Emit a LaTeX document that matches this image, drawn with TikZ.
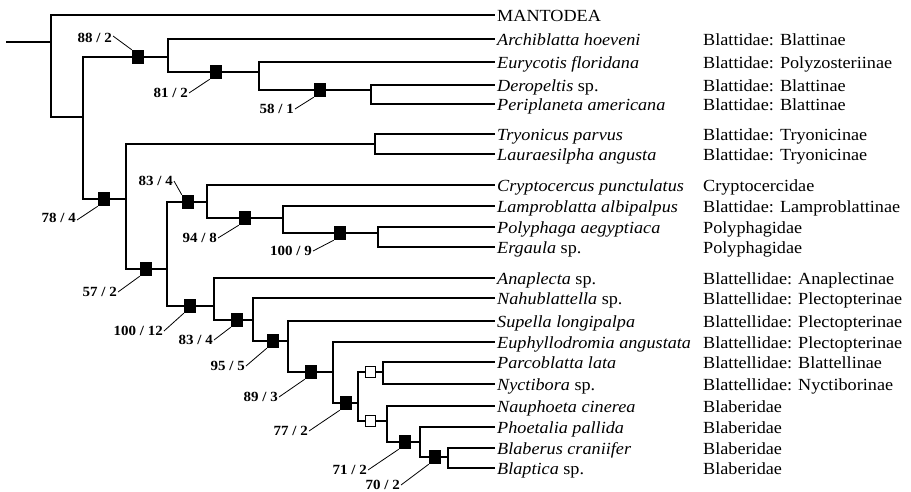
\documentclass[tikz,border=0pt]{standalone}
\usepackage{fontspec}
\setmainfont{Liberation Serif}[FakeStretch=1.07]
\begin{document}
\begin{tikzpicture}[x=1pt,y=-1pt,
  br/.style={line width=1.5pt, line cap=rect},
  bsq/.style={fill=black, draw=none, minimum width=12pt, minimum height=14pt, inner sep=0pt},
  osq/.style={fill=white, draw=black, line width=1pt, minimum width=10pt, minimum height=10.5pt, inner sep=0pt},
  leaf/.style={anchor=base west, inner sep=0pt, font=\fontsize{17}{19}\selectfont},
  lab/.style={anchor=east, inner sep=1pt, font=\fontsize{14}{16}\selectfont\bfseries},
  ldr/.style={line width=0.8pt}]
\useasboundingbox (0,0) rectangle (911,491);

% support squares
\node[bsq] (s88) at (138,57) {};
\node[bsq] (s81) at (216,72) {};
\node[bsq] (s58) at (320,90) {};
\node[bsq] (s78) at (104,199) {};
\node[bsq] (s57) at (146,269) {};
\node[bsq] (s83a) at (188,202) {};
\node[bsq] (s94) at (245,218) {};
\node[bsq] (s100) at (340,233) {};
\node[bsq] (s112) at (190,306) {};
\node[bsq] (s83b) at (237,320) {};
\node[bsq] (s95) at (273,341) {};
\node[bsq] (s89) at (311,372) {};
\node[bsq] (s77) at (346,403) {};
\node[osq] (o1) at (370,372) {};
\node[osq] (o2) at (370,421) {};
\node[bsq] (s71) at (405,442) {};
\node[bsq] (s70) at (435,457) {};

% tip coordinates
\foreach \n/\y in {t1/15,t2/39,t3/62,t4/85,t5/104,t6/134,t7/154,t8/185,t9/206,t10/227,t11/247,t12/278,t13/298,t14/321,t15/342,t16/362,t17/384,t18/406,t19/427,t20/448,t21/468}
  \coordinate (\n) at (494,\y);
\coordinate (root) at (7,42);

% tree
\draw[br] (root) -- (51,42);
\draw[br] (t1) -- (51,15) -- (51,117) -- (83,117);
\draw[br] (83,57) -- (83,199);
\draw[br] (83,57) -- (s88) -- (168,57);
\draw[br] (t2) -- (168,39) -- (168,72) -- (s81) -- (259,72);
\draw[br] (t3) -- (259,62) -- (259,90) -- (s58) -- (371,90);
\draw[br] (t4) -- (371,85) -- (371,104) -- (t5);
\draw[br] (83,199) -- (s78) -- (126,199);
\draw[br] (126,144) -- (126,269);
\draw[br] (126,144) -- (375,144);
\draw[br] (t6) -- (375,134) -- (375,154) -- (t7);
\draw[br] (126,269) -- (s57) -- (167,269);
\draw[br] (167,202) -- (167,306);
\draw[br] (167,202) -- (s83a) -- (207,202);
\draw[br] (t8) -- (207,185) -- (207,218) -- (s94) -- (283,218);
\draw[br] (t9) -- (283,206) -- (283,233) -- (s100) -- (378,233);
\draw[br] (t10) -- (378,227) -- (378,247) -- (t11);
\draw[br] (167,306) -- (s112) -- (214,306);
\draw[br] (t12) -- (214,278) -- (214,320) -- (s83b) -- (253,320);
\draw[br] (t13) -- (253,298) -- (253,341) -- (s95) -- (288,341);
\draw[br] (t14) -- (288,321) -- (288,372) -- (s89) -- (333,372);
\draw[br] (t15) -- (333,342) -- (333,403) -- (s77) -- (358,403);
\draw[br] (358,372) -- (358,421);
\draw[br] (358,372) -- (o1) -- (383,372);
\draw[br] (t16) -- (383,362) -- (383,384) -- (t17);
\draw[br] (358,421) -- (o2) -- (387,421);
\draw[br] (t18) -- (387,406) -- (387,442) -- (s71) -- (420,442);
\draw[br] (t19) -- (420,427) -- (420,457) -- (s70) -- (448,457);
\draw[br] (t20) -- (448,448) -- (448,468) -- (t21);

% support labels
\node[lab] (l88) at (113,38) {88 / 2};
\node[lab] (l81) at (189,93) {81 / 2};
\node[lab] (l58) at (295,109) {58 / 1};
\node[lab] (l78) at (77,218) {78 / 4};
\node[lab] (l83a) at (174,181) {83 / 4};
\node[lab] (l94) at (218,238) {94 / 8};
\node[lab] (l100) at (313,251) {100 / 9};
\node[lab] (l57) at (118,292) {57 / 2};
\node[lab] (l112) at (164,331) {100 / 12};
\node[lab] (l83b) at (214,340) {83 / 4};
\node[lab] (l95) at (246,366) {95 / 5};
\node[lab] (l89) at (279,397) {89 / 3};
\node[lab] (l77) at (309,431) {77 / 2};
\node[lab] (l71) at (368,470) {71 / 2};
\node[lab] (l70) at (401,485) {70 / 2};

\draw[ldr] ([yshift=2pt]l88.east) -- (s88.north west);
\draw[ldr] (l81.east) -- (s81.south west);
\draw[ldr] (l58.east) -- (s58.south west);
\draw[ldr] ([yshift=-2pt]l78.east) -- (s78.south west);
\draw[ldr] (l83a.east) -- (s83a.north west);
\draw[ldr] (l94.east) -- (s94.south west);
\draw[ldr] (l100.east) -- (s100.south west);
\draw[ldr] (l57.east) -- (s57.south west);
\draw[ldr] (l112.east) -- (s112.south west);
\draw[ldr] (l83b.east) -- (s83b.south west);
\draw[ldr] (l95.east) -- (s95.south west);
\draw[ldr] (l89.east) -- (s89.south west);
\draw[ldr] (l77.east) -- (s77.south west);
\draw[ldr] (l71.east) -- (s71.south west);
\draw[ldr] (l70.east) -- (s70.south west);

% taxa
\node[leaf] (n1) at (497,21) {MANTODEA};
\node[leaf] (n2) at (497,45) {\itshape Archiblatta hoeveni};
\node[leaf] (n3) at (497,68) {\itshape Eurycotis floridana};
\node[leaf] (n4) at (497,91) {\textit{Deropeltis} sp.};
\node[leaf] (n5) at (497,110) {\itshape Periplaneta americana};
\node[leaf] (n6) at (497,140) {\itshape Tryonicus parvus};
\node[leaf] (n7) at (497,160) {\itshape Lauraesilpha angusta};
\node[leaf] (n8) at (497,191) {\itshape Cryptocercus punctulatus};
\node[leaf] (n9) at (497,212) {\itshape Lamproblatta albipalpus};
\node[leaf] (n10) at (497,233) {\itshape Polyphaga aegyptiaca};
\node[leaf] (n11) at (497,253) {\textit{Ergaula} sp.};
\node[leaf] (n12) at (497,284) {\textit{Anaplecta} sp.};
\node[leaf] (n13) at (497,304) {\textit{Nahublattella} sp.};
\node[leaf] (n14) at (497,327) {\itshape Supella longipalpa};
\node[leaf] (n15) at (497,348) {\itshape Euphyllodromia angustata};
\node[leaf] (n16) at (497,368) {\itshape Parcoblatta lata};
\node[leaf] (n17) at (497,390) {\textit{Nyctibora} sp.};
\node[leaf] (n18) at (497,412) {\itshape Nauphoeta cinerea};
\node[leaf] (n19) at (497,433) {\itshape Phoetalia pallida};
\node[leaf] (n20) at (497,454) {\itshape Blaberus craniifer};
\node[leaf] (n21) at (497,474) {\textit{Blaptica} sp.};

% families
\node[leaf] (f2) at (703,45) {Blattidae: Blattinae};
\node[leaf] (f3) at (703,68) {Blattidae: Polyzosteriinae};
\node[leaf] (f4) at (703,91) {Blattidae: Blattinae};
\node[leaf] (f5) at (703,110) {Blattidae: Blattinae};
\node[leaf] (f6) at (703,140) {Blattidae: Tryonicinae};
\node[leaf] (f7) at (703,160) {Blattidae: Tryonicinae};
\node[leaf] (f8) at (703,191) {Cryptocercidae};
\node[leaf] (f9) at (703,212) {Blattidae: Lamproblattinae};
\node[leaf] (f10) at (703,233) {Polyphagidae};
\node[leaf] (f11) at (703,253) {Polyphagidae};
\node[leaf] (f12) at (703,284) {Blattellidae: Anaplectinae};
\node[leaf] (f13) at (703,304) {Blattellidae: Plectopterinae};
\node[leaf] (f14) at (703,327) {Blattellidae: Plectopterinae};
\node[leaf] (f15) at (703,348) {Blattellidae: Plectopterinae};
\node[leaf] (f16) at (703,368) {Blattellidae: Blattellinae};
\node[leaf] (f17) at (703,390) {Blattellidae: Nyctiborinae};
\node[leaf] (f18) at (703,412) {Blaberidae};
\node[leaf] (f19) at (703,433) {Blaberidae};
\node[leaf] (f20) at (703,454) {Blaberidae};
\node[leaf] (f21) at (703,474) {Blaberidae};
\end{tikzpicture}
\end{document}
